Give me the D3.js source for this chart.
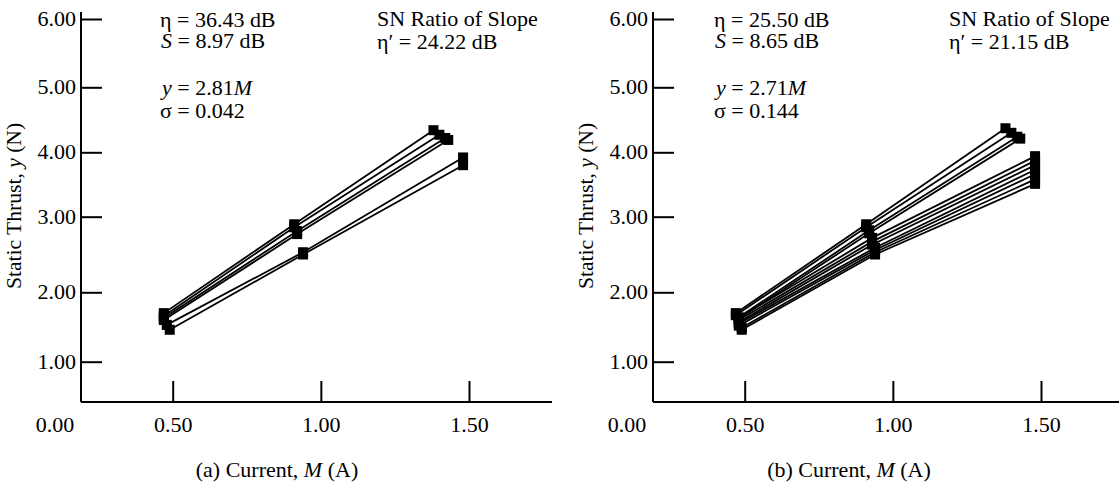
<!DOCTYPE html>
<html lang="en">
<head>
  <meta charset="utf-8">
  <title>Static Thrust vs Current</title>
  <script src="https://d3js.org/d3.v7.min.js"></script>
  <style>
    body { margin: 0; background: #fff; }
    svg, svg text, svg tspan { font-family: "Liberation Serif", "DejaVu Serif", serif !important; }
    svg text { font-size: 20px; fill: #000; }
    .axis path { display: none; }
    .axis line { stroke: #000; stroke-width: 2; }
  </style>
</head>
<body>
  <div id="chart"></div>

  <script>
    "use strict"

    // tick values
    var xTicks = [0.5, 1.0, 1.5];
    var yTicks = [1, 2, 3, 4, 5, 6];

    // panel (a): each line = [current M, thrust y] at three signal levels
    var linhasA = [
      [[0.47, 1.70], [0.91, 2.90], [1.38, 4.34]],
      [[0.47, 1.66], [0.91, 2.86], [1.40, 4.27]],
      [[0.47, 1.63], [0.92, 2.81], [1.42, 4.22]],
      [[0.47, 1.60], [0.92, 2.77], [1.43, 4.19]],
      [[0.48, 1.53], [0.94, 2.53], [1.48, 3.92]],
      [[0.49, 1.46], [0.94, 2.50], [1.48, 3.80]]
    ];

    // panel (b)
    var linhasB = [
      [[0.47, 1.70], [0.91, 2.90], [1.38, 4.37]],
      [[0.47, 1.67], [0.91, 2.86], [1.40, 4.30]],
      [[0.48, 1.64], [0.92, 2.82], [1.42, 4.24]],
      [[0.48, 1.62], [0.92, 2.78], [1.43, 4.21]],
      [[0.48, 1.63], [0.93, 2.72], [1.48, 3.94]],
      [[0.48, 1.60], [0.93, 2.67], [1.48, 3.87]],
      [[0.48, 1.57], [0.93, 2.63], [1.48, 3.80]],
      [[0.48, 1.55], [0.94, 2.59], [1.48, 3.73]],
      [[0.48, 1.52], [0.94, 2.56], [1.48, 3.66]],
      [[0.49, 1.49], [0.94, 2.53], [1.48, 3.58]],
      [[0.49, 1.46], [0.94, 2.50], [1.48, 3.51]]
    ];

    var statsA = ["36.43", "8.97", "2.81", "0.042", "24.22"];
    var statsB = ["25.50", "8.65", "2.71", "0.144", "21.15"];
    var captions = ["(a)", "(b)"];

    var larguraSVG = 1119, alturaSVG = 489;
    var eixoX = 81, base = 402, topo = 12, comprimento = 471;
    var fonte = '"Liberation Serif", "DejaVu Serif", serif';
    var estica = 1.1; // the scanned type is a bit wider than Times

    var svg = d3.select('#chart')
      .append('svg')
        .attr('width', larguraSVG)
        .attr('height', alturaSVG)
        .attr('font-family', fonte)
        .attr('font-size', 20);

    // x scale (shared inside each panel)
    var x = d3.scaleLinear()
              .domain([0.5, 1.5])
              .range([172.7, 469]);

    // y: the scanned figure has slightly uneven tick spacing, so piecewise
    var y = d3.scaleLinear()
              .domain(yTicks)
              .range([361.7, 292.3, 216.7, 152.3, 87.3, 19]);

    function desenhaPainel(linhas, stats, legenda, dx, dxNotas) {
      var g = svg.append('g').attr('transform', 'translate(' + dx + ',0)');

      // eixos
      g.append('line')
        .attr('x1', eixoX).attr('x2', eixoX)
        .attr('y1', topo).attr('y2', base)
        .attr('stroke', '#000').attr('stroke-width', 2);
      g.append('line')
        .attr('x1', eixoX).attr('x2', eixoX + comprimento)
        .attr('y1', base).attr('y2', base)
        .attr('stroke', '#000').attr('stroke-width', 2);

      var ay = g.append('g')
        .attr('class', 'axis')
        .attr('transform', 'translate(' + eixoX + ',0)')
        .call(d3.axisLeft(y).tickValues(yTicks).tickSizeInner(-21).tickSizeOuter(0)
              .tickPadding(5).tickFormat(d3.format('.2f')));
      ay.attr('font-family', fonte).attr('font-size', 20);

      var ax = g.append('g')
        .attr('class', 'axis')
        .attr('transform', 'translate(0,' + base + ')')
        .call(d3.axisBottom(x).tickValues(xTicks).tickSizeInner(-21).tickSizeOuter(0)
              .tickFormat(d3.format('.2f')));
      ax.attr('font-family', fonte).attr('font-size', 20);
      ax.selectAll('text').attr('y', 30).attr('dy', 0);

      // origin label
      g.append('text')
        .attr('x', eixoX - 26).attr('y', base + 30)
        .attr('text-anchor', 'middle')
        .text('0.00');

      // linhas
      var linha = d3.line().x(d => x(d[0])).y(d => y(d[1]));
      g.selectAll('path.serie')
        .data(linhas)
        .enter()
          .append('path')
            .attr('class', 'serie')
            .attr('d', linha)
            .attr('fill', 'none')
            .attr('stroke', '#000')
            .attr('stroke-width', 1.8);

      // marcadores quadrados
      var pts = [];
      linhas.forEach(l => l.forEach(p => pts.push(p)));
      var s = 10;
      g.selectAll('rect.ponto')
        .data(pts)
        .enter()
          .append('rect')
            .attr('class', 'ponto')
            .attr('x', d => x(d[0]) - s / 2)
            .attr('y', d => y(d[1]) - s / 2)
            .attr('width', s)
            .attr('height', s)
            .attr('fill', '#000');

      // anotacoes
      g.append('text').attr('x', dxNotas).attr('y', 27)
        .text('\u03b7 = ' + stats[0] + ' dB');
      var t2 = g.append('text').attr('x', dxNotas + 1).attr('y', 48);
      t2.append('tspan').attr('font-style', 'italic').text('S');
      t2.append('tspan').text(' = ' + stats[1] + ' dB');
      var t3 = g.append('text').attr('x', dxNotas + 2).attr('y', 95);
      t3.append('tspan').attr('font-style', 'italic').text('y');
      t3.append('tspan').text(' = ' + stats[2]);
      t3.append('tspan').attr('font-style', 'italic').text('M');
      g.append('text').attr('x', dxNotas).attr('y', 118)
        .text('\u03c3 = ' + stats[3]);

      g.append('text').attr('x', eixoX + 296).attr('y', 26)
        .text('SN Ratio of Slope');
      g.append('text').attr('x', eixoX + 296).attr('y', 49)
        .text('\u03b7\u2032 = ' + stats[4] + ' dB');

      // legenda do eixo x
      var tx = g.append('text')
        .attr('x', 277).attr('y', 477)
        .attr('text-anchor', 'middle');
      tx.append('tspan').text(legenda + ' Current, ');
      tx.append('tspan').attr('font-style', 'italic').text('M');
      tx.append('tspan').text(' (A)');

      // alarga os textos horizontais
      g.selectAll('text').each(function() {
        var t = d3.select(this);
        var tx0 = +t.attr('x') || 0, ty0 = +t.attr('y') || 0;
        t.attr('x', 0).attr('y', 0)
         .attr('transform', 'translate(' + tx0 + ',' + ty0 + ') scale(' + estica + ',1)');
      });

      // titulo do eixo y
      var ty = g.append('text')
        .attr('transform', 'translate(21,206) rotate(-90) scale(1.08,1)')
        .attr('text-anchor', 'middle');
      ty.append('tspan').text('Static Thrust, ');
      ty.append('tspan').attr('font-style', 'italic').text('y');
      ty.append('tspan').text(' (N)');
    }

    desenhaPainel(linhasA, statsA, captions[0], 0, 160);
    desenhaPainel(linhasB, statsB, captions[1], 572, 142);
  </script>
</body>
</html>
